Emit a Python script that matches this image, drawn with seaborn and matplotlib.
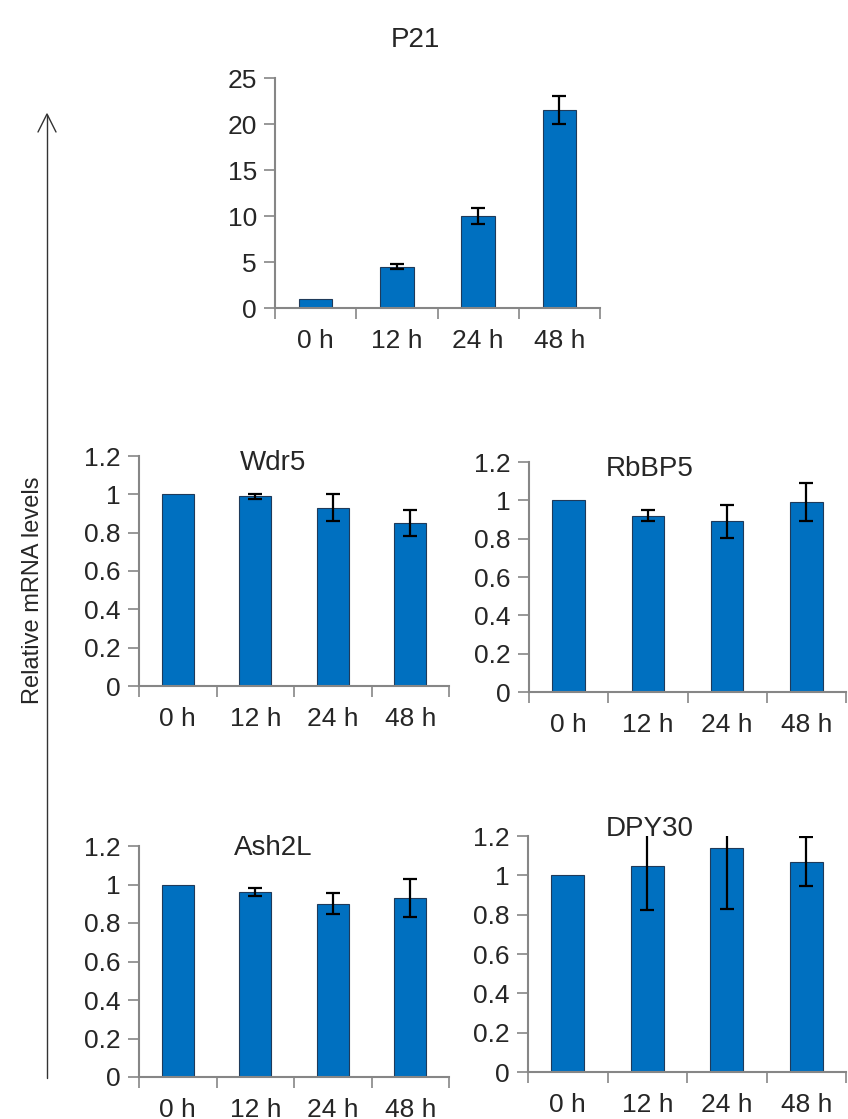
import numpy as np
import pandas as pd
import seaborn as sns
import matplotlib.pyplot as plt
from matplotlib.ticker import FixedLocator

times = ["0 h", "12 h", "24 h", "48 h"]

p21_mean = [1.0, 4.5, 10.0, 21.5]
p21_err = [0.0, 0.3, 0.85, 1.5]

wdr5_mean = [1.0, 0.99, 0.93, 0.85]
wdr5_err = [0.0, 0.012, 0.07, 0.067]

rbbp5_mean = [1.0, 0.92, 0.89, 0.99]
rbbp5_err = [0.0, 0.03, 0.085, 0.10]

ash2l_mean = [1.0, 0.96, 0.90, 0.93]
ash2l_err = [0.0, 0.022, 0.055, 0.10]

dpy30_mean = [1.0, 1.05, 1.14, 1.07]
dpy30_err = [0.0, 0.228, 0.31, 0.125]

sns.set_style("white")
plt.rcParams['font.family'] = ['Liberation Sans', 'DejaVu Sans']

BAR = "#0070C0"
SPINE = "#868686"
W, H = 848, 1119

fig = plt.figure(figsize=(W / 100, H / 100), dpi=100)


def px_axes(left, top, right, bottom):
    return fig.add_axes([left / W, 1 - bottom / H, (right - left) / W, (bottom - top) / H])


def panel(box, title, title_xy, mean, err, ymax, ystep, fmt):
    ax = px_axes(*box)
    df = pd.DataFrame({"time": times, "value": mean})
    sns.barplot(data=df, x="time", y="value", color=BAR, width=0.41,
                edgecolor="#1f3a5a", linewidth=0.8, errorbar=None, ax=ax,
                saturation=1)
    ax.errorbar(np.arange(len(times))[1:], mean[1:], yerr=err[1:], fmt="none",
                ecolor="black", elinewidth=1.6, capsize=5, capthick=1.6,
                clip_on=True)
    ax.set_xlim(-0.5, len(times) - 0.5)
    ax.set_ylim(0, ymax)
    yt = np.arange(0, ymax + ystep / 2, ystep)
    ax.set_yticks(yt)
    ax.set_yticklabels([fmt(v) for v in yt])
    ax.set_xlabel("")
    ax.set_ylabel("")
    ax.xaxis.set_minor_locator(FixedLocator(np.arange(-0.5, len(times), 1.0)))
    ax.tick_params(axis="x", which="major", length=0, pad=15, labelsize=19)
    ax.tick_params(axis="x", which="minor", length=8, width=1.2, color=SPINE,
                   direction="out", bottom=True)
    ax.tick_params(axis="y", length=8, width=1.2, color=SPINE, direction="out",
                   left=True, pad=5, labelsize=19)
    for s in ["top", "right"]:
        ax.spines[s].set_visible(False)
    for s in ["left", "bottom"]:
        ax.spines[s].set_color(SPINE)
        ax.spines[s].set_linewidth(1.5)
    fig.text(title_xy[0] / W, 1 - title_xy[1] / H, title, ha="center",
             va="center", fontsize=20)
    return ax


def fmt_int(v):
    return f"{int(round(v))}"


def fmt_dec(v):
    return f"{v:.1f}".rstrip("0").rstrip(".") if v != 0 else "0"


panel((275, 78, 600, 308), "P21", (415, 40), p21_mean, p21_err, 25, 5, fmt_int)
panel((139, 456, 449, 686), "Wdr5", (273, 463), wdr5_mean, wdr5_err, 1.2, 0.2, fmt_dec)
panel((529, 462, 846, 692), "RbBP5", (650, 469), rbbp5_mean, rbbp5_err, 1.2, 0.2, fmt_dec)
panel((139, 846, 449, 1077), "Ash2L", (273, 848), ash2l_mean, ash2l_err, 1.2, 0.2, fmt_dec)
panel((528, 836, 846, 1072), "DPY30", (650, 829), dpy30_mean, dpy30_err, 1.2, 0.2, fmt_dec)

# long arrow with the shared y label
fig.add_artist(plt.Line2D([47 / W, 47 / W], [1 - 1078 / H, 1 - 115 / H],
                          color="#333333", linewidth=1.0))
fig.add_artist(plt.Line2D([38 / W, 47 / W, 56 / W],
                          [1 - 132 / H, 1 - 114 / H, 1 - 132 / H],
                          color="#333333", linewidth=1.0))
fig.text(33 / W, 1 - 590 / H, "Relative mRNA levels", rotation=90,
         ha="center", va="center", fontsize=17,
         family=["Liberation Sans Narrow", "Liberation Sans"])

fig.savefig("out.png", dpi=100)
